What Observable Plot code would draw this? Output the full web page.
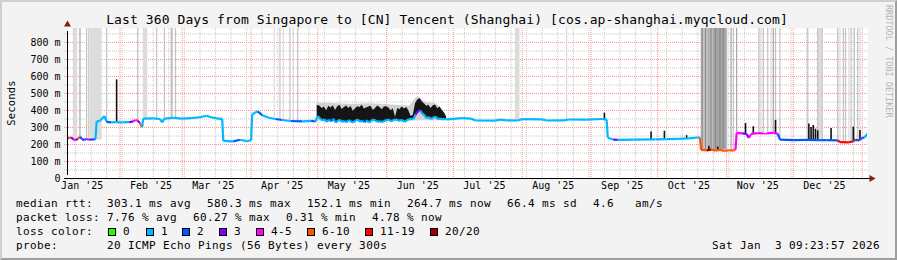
<!DOCTYPE html>
<html><head><meta charset="utf-8">
<script src="https://cdn.jsdelivr.net/npm/d3@7"></script>
<script src="https://cdn.jsdelivr.net/npm/@observablehq/plot@0.6"></script>
<style>
html,body{margin:0;padding:0;background:#f3f3f3;}
#chart{position:relative;width:897px;height:260px;background:#f3f3f3;font-family:"DejaVu Sans Mono",monospace;overflow:hidden;color:#000}
#plot svg{position:absolute;left:0;top:0}
.t{position:absolute;white-space:pre;font-size:11px;line-height:14px;letter-spacing:0.38px}
.sw{position:absolute;width:8px;height:8px;box-sizing:border-box;border:1px solid #000}
#frame{position:absolute;left:0;top:0;width:897px;height:260px;box-sizing:border-box;border-style:solid;border-width:2px;border-color:#cfcfcf #9e9e9e #9e9e9e #cfcfcf;pointer-events:none}
</style></head>
<body>
<div id="chart">
  <div id="plot"></div>
  <div id="frame"></div>
</div>
<script>
// ---------- data ----------
const titleText = "Last 360 Days from Singapore to [CN] Tencent (Shanghai) [cos.ap-shanghai.myqcloud.com]";
const startTime = "2025-01-08T09:23:57Z";
const endTime = "2026-01-03T09:23:57Z";
const yTicks = [0,100,200,300,400,500,600,700,800];
const yMax = 882;
const xTickDates = ["2025-01-15","2025-02-15","2025-03-15","2025-04-15","2025-05-15","2025-06-15","2025-07-15","2025-08-15","2025-09-15","2025-10-15","2025-11-15","2025-12-15"];
const xTickLabels = ["Jan '25","Feb '25","Mar '25","Apr '25","May '25","Jun '25","Jul '25","Aug '25","Sep '25","Oct '25","Nov '25","Dec '25"];

const lossKeys = ["0","1","2","3","4-5","6-10","11-19","20/20"];
const lossColors = ["#26ff00","#00b8ff","#0059ff","#7e00ff","#ff00ff","#ff5500","#ff0000","#a10000"];

// median rtt (ms) and loss class
const medDates = ["2025-01-08","2025-01-09","2025-01-10","2025-01-11","2025-01-12","2025-01-13","2025-01-14","2025-01-15","2025-01-16","2025-01-17","2025-01-18","2025-01-19","2025-01-20","2025-01-21","2025-01-21T12:00Z","2025-01-23","2025-01-25","2025-01-26","2025-01-28","2025-01-30","2025-02-02","2025-02-05","2025-02-07","2025-02-08","2025-02-09","2025-02-10","2025-02-11","2025-02-11T12:00Z","2025-02-16","2025-02-19","2025-02-20","2025-02-21","2025-02-25","2025-03-01","2025-03-05","2025-03-09","2025-03-12","2025-03-14","2025-03-17","2025-03-19","2025-03-19T12:00Z","2025-03-24","2025-03-27","2025-03-30","2025-04-01","2025-04-01T12:00Z","2025-04-04","2025-04-06","2025-04-09","2025-04-12","2025-04-15","2025-04-19","2025-04-24","2025-04-28","2025-04-30",
"2025-05-01","2025-05-02","2025-05-03","2025-05-04","2025-05-05","2025-05-06","2025-05-07","2025-05-08","2025-05-09","2025-05-10","2025-05-11","2025-05-12","2025-05-13","2025-05-14","2025-05-15","2025-05-16","2025-05-17","2025-05-18","2025-05-19","2025-05-20","2025-05-21","2025-05-22","2025-05-23","2025-05-24","2025-05-25","2025-05-26","2025-05-27","2025-05-28","2025-05-29","2025-05-30","2025-05-31",
"2025-06-01","2025-06-02","2025-06-03","2025-06-04","2025-06-05","2025-06-06","2025-06-07","2025-06-08","2025-06-09","2025-06-10","2025-06-11","2025-06-12","2025-06-13","2025-06-14","2025-06-15","2025-06-16","2025-06-17","2025-06-18","2025-06-19","2025-06-20","2025-06-21","2025-06-22","2025-06-23","2025-06-24","2025-06-25","2025-06-26","2025-06-27","2025-06-28",
"2025-07-05","2025-07-09","2025-07-11","2025-07-20","2025-07-22","2025-07-25","2025-07-30","2025-08-01","2025-08-10","2025-08-12","2025-08-20","2025-08-22","2025-08-30","2025-09-06","2025-09-08","2025-09-08T12:00Z","2025-09-11","2025-09-13","2025-09-20","2025-09-30","2025-10-05","2025-10-10","2025-10-15","2025-10-19","2025-10-20","2025-10-20T12:00Z","2025-10-23","2025-10-25","2025-10-27","2025-10-29","2025-10-31","2025-11-02","2025-11-04","2025-11-05","2025-11-05T12:00Z","2025-11-08","2025-11-10","2025-11-11","2025-11-12","2025-11-15","2025-11-19","2025-11-22","2025-11-24","2025-11-25","2025-12-01","2025-12-08","2025-12-12","2025-12-16","2025-12-21","2025-12-22","2025-12-26","2025-12-28","2025-12-29","2025-12-30","2026-01-01","2026-01-02","2026-01-03T12:00Z"];
const medValues = [244,236,242,229,226,232,246,230,227,233,226,231,228,234,336,338,368,333,330,331,330,331,336,344,340,326,302,352,353,350,330,352,356,352,355,360,369,360,352,351,221,218,228,220,225,378,395,372,357,350,344,338,336,339,335,
368,353,341,348,333,345,337,351,329,339,345,333,338,331,343,335,329,341,347,333,339,331,343,329,338,347,341,333,337,331,339,
343,347,335,343,348,343,339,345,333,341,348,351,348,375,393,401,383,373,355,361,349,358,365,349,353,348,351,348,
355,352,341,340,346,342,341,349,348,341,342,347,346,350,346,240,229,227,229,230,232,233,236,241,240,168,165,170,164,168,162,166,164,170,268,265,262,238,262,267,265,268,264,228,226,227,225,226,224,214,213,218,230,222,238,240,265];
const medLoss = ["2","3","6-10","3","4-5","3","6-10","2","3","2","4-5","2","3","2","1","1","1","1","2","1","1","1","3","4-5","4-5","3","6-10","1","1","1","1","1","1","1","1","1","1","1","1","1","1","1","2","1","1","1","1","2","1","1","2","1","2","1","2",
"1","1","1","1","1","1","1","2","1","1","1","1","1","1","1","1","1","1","1","1","1","1","2","1","1","1","1","1","1","1","1",
"1","1","1","1","1","1","1","1","1","1","1","1","1","1","3","3","1","1","1","1","1","1","1","1","1","1","1","1",
"1","1","1","1","1","1","1","1","1","1","1","1","1","1","1","1","1","3","1","1","1","1","1","1","1","6-10","6-10","20/20","6-10","6-10","6-10","6-10","6-10","6-10","4-5","4-5","3","3","4-5","4-5","4-5","4-5","4-5","2","2","2","2","2","2","11-19","11-19","11-19","2","11-19","2","2","1"];

// high-variance period (black band of median spread), daily
const noiseDates = ["2025-04-30T18:00Z","2025-05-02","2025-05-03","2025-05-04","2025-05-05","2025-05-06","2025-05-07","2025-05-08","2025-05-09","2025-05-10","2025-05-11","2025-05-12","2025-05-13","2025-05-14","2025-05-15","2025-05-16","2025-05-17","2025-05-18","2025-05-19","2025-05-20","2025-05-21","2025-05-22","2025-05-23","2025-05-24","2025-05-25","2025-05-26","2025-05-27","2025-05-28","2025-05-29","2025-05-30","2025-05-31",
"2025-06-01","2025-06-02","2025-06-03","2025-06-04","2025-06-05","2025-06-06","2025-06-07","2025-06-08","2025-06-09","2025-06-10","2025-06-11","2025-06-12","2025-06-13","2025-06-14","2025-06-15","2025-06-16","2025-06-17","2025-06-18","2025-06-19","2025-06-20","2025-06-21","2025-06-22","2025-06-23","2025-06-24","2025-06-25","2025-06-26","2025-06-27","2025-06-28"];
const noiseLow  = [365,350,338,345,330,342,334,348,326,336,342,330,335,328,340,332,326,338,344,330,336,328,340,326,335,344,338,330,334,328,336,
340,344,332,340,345,340,336,342,330,338,345,348,345,372,390,398,380,370,352,358,346,355,362,346,350,345,348,345];
const noiseHigh = [430,425,412,420,398,425,415,428,400,422,430,405,418,426,412,424,395,410,422,418,430,408,415,420,425,400,412,426,418,404,420,
422,415,398,410,360,412,404,420,408,418,398,365,372,440,462,470,452,440,425,430,412,428,432,410,420,402,385,360];
// light smoke above the band
const smokeTopDates = ["2025-04-30T18:00Z","2025-05-06","2025-05-12","2025-05-18","2025-05-24","2025-05-30","2025-06-05","2025-06-11","2025-06-15","2025-06-19","2025-06-23","2025-06-28"];
const smokeTop = [440,442,438,436,440,436,430,426,478,446,440,370];

// isolated spikes of the median
const spikeDates = ["2025-01-30T12:00Z","2025-09-07","2025-09-28","2025-10-04","2025-10-14","2025-10-24","2025-10-28","2025-11-09T12:00Z","2025-11-13","2025-11-23","2025-12-08","2025-12-09","2025-12-10","2025-12-11","2025-12-12","2025-12-18","2025-12-28","2025-12-31"];
const spikeLow  = [330,346,229,232,234,165,164,262,262,265,226,226,226,226,226,226,218,222];
const spikeHigh = [580,384,274,278,252,190,185,323,304,341,320,300,312,290,280,294,302,282];

// smoke reaching beyond the top of the graph
const smokeBandStart = ["2025-01-11","2025-01-18T18:00Z","2025-02-11T12:00Z","2025-02-24","2025-07-29","2025-10-20T12:00Z","2025-10-26","2025-12-12"];
const smokeBandEnd   = ["2025-01-13","2025-01-24","2025-02-13T12:00Z","2025-02-25","2025-07-31","2025-11-01T12:00Z","2025-11-01","2025-12-14"];
const smokeBandShade = [0,0,0,1,0,1,2,0];
const smokeLineDates = ["2025-01-14","2025-01-17","2025-01-18","2025-01-26","2025-02-09","2025-02-17T12:00Z","2025-02-21","2025-02-26","2025-04-11T12:00Z","2025-04-14","2025-04-15T12:00Z","2025-04-18T12:00Z","2025-04-20","2025-04-22","2025-08-21","2025-10-21","2025-10-22T12:00Z","2025-10-24","2025-10-25","2025-10-27","2025-10-29","2025-10-30T12:00Z","2025-11-03","2025-11-04","2025-11-05T12:00Z","2025-11-15T12:00Z","2025-11-16T12:00Z","2025-11-17T12:00Z","2025-11-19T12:00Z","2025-11-21","2025-11-22","2025-11-23","2025-11-25","2025-12-07T12:00Z","2025-12-12","2025-12-14","2025-12-21","2025-12-22","2025-12-23T12:00Z","2025-12-24T12:00Z","2025-12-26","2025-12-27","2025-12-28T12:00Z","2025-12-30","2025-12-31"];
const smokeLineShade = [2,1,1,1,1,1,1,1,0,1,0,1,0,1,0,3,3,2,3,3,3,3,2,1,2,1,0,1,1,0,2,1,1,1,1,1,1,0,1,1,0,1,1,1,0];
const smokeShades = ["#dcdcdc","#c2c2c2","#a6a6a6","#8a8a8a"];

// legend text
const statRtt = ["median rtt:  303.1 ms avg","580.3 ms max","152.1 ms min","264.7 ms now","66.4 ms sd","4.6   am/s"];
const statLoss = ["packet loss: 7.76 % avg","60.27 % max","0.31 % min","4.78 % now"];
const probeText = "probe:       20 ICMP Echo Pings (56 Bytes) every 300s";
const stampText = "Sat Jan  3 09:23:57 2026";

// ---------- build ----------
const P = s => s.length > 10 ? new Date(s) : d3.utcParse("%Y-%m-%d")(s);
const t0 = new Date(startTime), t1 = new Date(endTime);
const colorOf = Object.fromEntries(lossKeys.map((k,i)=>[k,lossColors[i]]));
const med = medDates.map((d,i)=>({date:P(d), v:medValues[i], loss:medLoss[i]}));
const segs = d3.pairs(med).map(([a,b])=>({x1:a.date,x2:b.date,y1:a.v,y2:b.v,loss:b.loss}));
const bis = d3.bisector(d=>d.date).right;
const medAt = dt => med[Math.max(0, bis(med, dt)-1)].v;
const noise = noiseDates.map((d,i)=>({date:P(d), lo:noiseLow[i], hi:noiseHigh[i]}));
const smokeTopData = smokeTopDates.map((d,i)=>({date:P(d), top:smokeTop[i]}));
const spikes = spikeDates.map((d,i)=>({date:P(d), lo:spikeLow[i], hi:spikeHigh[i]}));
const sBands = smokeBandStart.map((d,i)=>({a:P(d), b:P(smokeBandEnd[i]), shade:smokeShades[smokeBandShade[i]]}));
const sLines = smokeLineDates.map((d,i)=>({date:P(d), shade:smokeShades[smokeLineShade[i]]}));
const minorY = d3.range(50, 900, 100);
const majorY = yTicks.slice(1);
const weeks = d3.utcSunday.range(t0, t1);
const months = d3.utcMonth.range(t0, t1);
const xTicks = xTickDates.map(P);

const plot = Plot.plot({
  width: 897, height: 260,
  marginLeft: 67, marginRight: 30, marginTop: 28, marginBottom: 82,
  style: {background: "transparent", fontFamily: "'DejaVu Sans Mono'", fontSize: "10px", color: "#000", overflow: "visible"},
  x: {type: "utc", domain: [t0, t1]},
  y: {domain: [0, yMax]},
  color: {type: "identity"},
  marks: [
    Plot.frame({fill: "white", stroke: null}),
    Plot.ruleY(minorY, {stroke: "#c8c8c8", strokeDasharray: "1,1", insetLeft: -3}),
    Plot.ruleX(weeks, {stroke: "#c8c8c8", strokeDasharray: "1,1"}),
    Plot.ruleY(majorY, {stroke: "#ff9090", strokeDasharray: "1,1", insetLeft: -3}),
    Plot.ruleX(months, {stroke: "#ff9090", strokeDasharray: "1,1"}),
    Plot.rect(sBands, {x1: "a", x2: "b", y1: d => medAt(d.a), y2: yMax, fill: "shade", clip: true}),
    Plot.ruleX(sLines, {x: "date", y1: d => medAt(d.date), y2: yMax, stroke: "shade", strokeWidth: 1.2, clip: true}),
    Plot.areaY(smokeTopData, {x: "date", y1: 340, y2: "top", fill: "#d2d2d2", curve: "monotone-x", clip: true}),
    Plot.areaY(noise, {x: "date", y1: "lo", y2: "hi", fill: "#151515", curve: "linear", clip: true}),
    Plot.ruleX(spikes, {x: "date", y1: "lo", y2: "hi", stroke: "#111", strokeWidth: 1.6, clip: true}),
    Plot.link(segs, {x1: "x1", y1: "y1", x2: "x2", y2: "y2", stroke: d => colorOf[d.loss], strokeWidth: 2.2, clip: true}),
    Plot.ruleY([0], {stroke: "#000", insetLeft: -3, insetRight: -3}),
    Plot.ruleX([t0], {y1: 0, y2: yMax, stroke: "#000", insetBottom: -3, insetTop: -3}),
    Plot.dot([t1], {x: d => d, y: () => 0, symbol: "triangle", rotate: 90, r: 2.6, fill: "#8b1a1a", stroke: null, dx: 4}),
    Plot.dot([t0], {x: d => d, y: () => yMax, symbol: "triangle", r: 2.6, fill: "#8b1a1a", stroke: null, dy: -4}),
    Plot.axisY({ticks: yTicks, tickSize: 0, tickPadding: 7, tickFormat: d => d === 0 ? "0" : `${d} m`, label: null}),
    Plot.axisX({ticks: xTicks, tickSize: 0, tickPadding: 3, tickFormat: (d, i) => xTickLabels[i], label: null})
  ]
});
document.getElementById("plot").appendChild(plot);

// ---------- text overlays ----------
const chart = document.getElementById("chart");
function addText(txt, left, top, extra) {
  const el = document.createElement("div");
  el.className = "t"; el.textContent = txt;
  el.style.left = left + "px"; el.style.top = top + "px";
  Object.assign(el.style, extra || {});
  chart.insertBefore(el, document.getElementById("frame"));
  return el;
}
addText(titleText, 0, 11.5, {width: "894px", textAlign: "center", fontSize: "13px", lineHeight: "16px", letterSpacing: "0.1px"});
const rttX = [16, 207, 307, 407, 507, 593];
statRtt.forEach((s, i) => addText(s, rttX[i], 196.5));
const lossX = [16, 193, 286, 372];
statLoss.forEach((s, i) => addText(s, lossX[i], 210.5));
addText("loss color:", 16, 224.5);
const swX = [108, 146, 182, 219, 256, 307, 365, 430];
lossKeys.forEach((k, i) => {
  const b = document.createElement("div");
  b.className = "sw"; b.style.left = swX[i] + "px"; b.style.top = "228px"; b.style.background = lossColors[i];
  chart.insertBefore(b, document.getElementById("frame"));
  addText(k, swX[i] + 15, 224.5);
});
addText(probeText, 16, 238.5);
addText(stampText, 0, 238.5, {width: "880px", textAlign: "right"});
addText("Seconds", -19, 96, {fontSize: "10.5px", letterSpacing: "0.2px", transform: "rotate(-90deg)", width: "60px", textAlign: "center"});
addText("RRDTOOL / TOBI OETIKER", 835, 52, {fontSize: "8.5px", letterSpacing: "0px", color: "#b4b4b4", transform: "rotate(90deg)", width: "108px", textAlign: "center"});
</script>
</body></html>
